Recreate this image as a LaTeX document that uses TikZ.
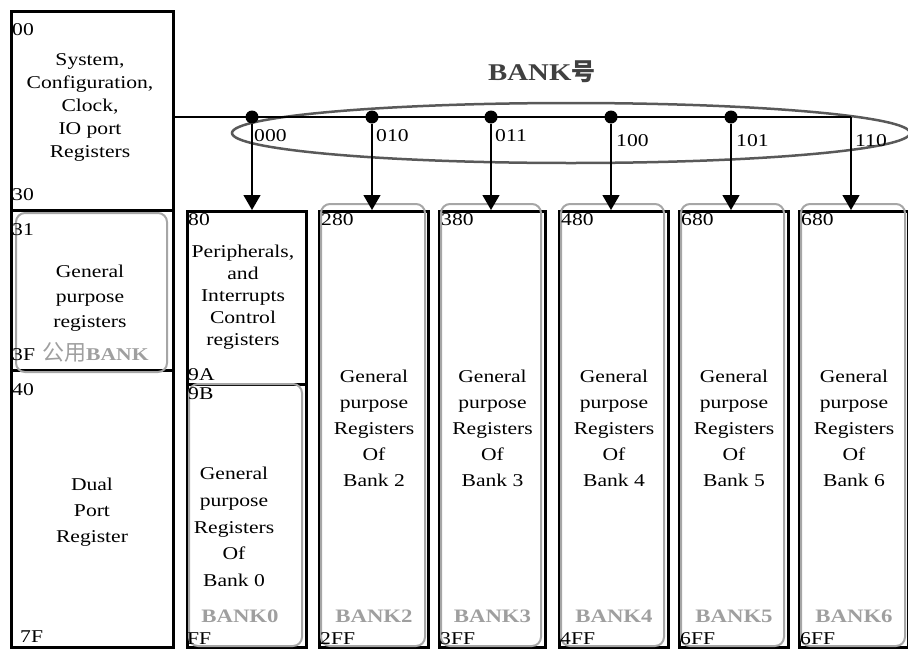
\documentclass[tikz,border=0pt]{standalone}
\usepackage{fontspec}
\setmainfont{Liberation Serif}[FakeStretch=1.2]
\newfontfamily\cjk{Noto Sans CJK SC}
\usepackage{xcolor}
\usetikzlibrary{arrows.meta}
\tikzset{
  regbox/.style={draw, line width=3pt, rectangle, inner sep=0pt, anchor=north west},
  gpbox/.style={draw=gray!70, line width=2pt, rounded corners=9pt},
  addr/.style={inner sep=0pt, anchor=base west},
  bodytext/.style={align=center, inner sep=0pt},
  banklbl/.style={text=gray!75, inner sep=0pt, anchor=base, font=\fontsize{19}{19}\selectfont\bfseries},
  bitlbl/.style={inner sep=0pt, anchor=base west},
  busdot/.style={circle, fill, inner sep=0pt, minimum size=13pt},
  busline/.style={line width=1.3pt},
  selarrow/.style={line width=1.3pt, -{Triangle[width=17pt,length=15pt]}},
  selring/.style={draw=black!65, line width=2.5pt},
}

\begin{document}
\begin{tikzpicture}[x=1pt, y=-1pt, font=\fontsize{18}{23}\selectfont]
\useasboundingbox (0,0) rectangle (908,651);

% left column: common area
\node[regbox, minimum width=162pt, minimum height=199pt] (sysbox) at (10,10) {};
\node[regbox, minimum width=162pt, minimum height=160pt] (sharedbox) at (10,209) {};
\node[regbox, minimum width=162pt, minimum height=277pt] (dualbox) at (10,369) {};
\draw[gpbox] (16,213) rectangle (167,372);

\node[addr] (a00) at (12,35) {00};
\node[bodytext, font=\fontsize{18}{23}\selectfont] (systxt) at (90,107) {System,\\Configuration,\\Clock,\\IO port\\Registers};
\node[addr] (a30) at (12,200) {30};
\node[addr] (a31) at (12,235) {31};
\node[bodytext, font=\fontsize{18}{25}\selectfont] (sharedtxt) at (90,298) {General\\purpose\\registers};
\node[addr] (a3F) at (12,360) {3F};
\node[addr, text=gray!75] (sharedlbl) at (42,360) {{\fontsize{22}{22}\cjk 公用}{\bfseries BANK}};
\node[addr] (a40) at (12,395) {40};
\node[bodytext, font=\fontsize{18}{26}\selectfont] (dualtxt) at (92,512) {Dual\\Port\\Register};
\node[addr] (a7F) at (20,642) {7F};

% bank select bus
\node[addr, text=black!75] (title) at (488,80) {\fontsize{24}{24}\selectfont\bfseries BANK\cjk 号};
\draw[selring] (571,133) ellipse [x radius=339, y radius=30];
\node[busdot] (d0) at (252,117) {};
\node[busdot] (d2) at (372,117) {};
\node[busdot] (d3) at (491,117) {};
\node[busdot] (d4) at (611,117) {};
\node[busdot] (d5) at (731,117) {};
\coordinate (t6) at (851,117);
\draw[busline] (sysbox.east |- t6) -- (t6);
\node[bitlbl] (s0) at (254,141) {000};
\node[bitlbl] (s2) at (376,141) {010};
\node[bitlbl] (s3) at (495,141) {011};
\node[bitlbl] (s4) at (616,146) {100};
\node[bitlbl] (s5) at (736,146) {101};
\node[bitlbl] (s6) at (855,146) {110};

% bank 0
\node[regbox, minimum width=119pt, minimum height=173pt] (periph) at (186,210) {};
\node[regbox, minimum width=119pt, minimum height=263pt] (b0) at (186,383) {};
\draw[gpbox] (189,384) rectangle (302,646);
\node[addr] (a80) at (188,225) {80};
\node[bodytext, font=\fontsize{18}{22}\selectfont] (periphtxt) at (243,297) {Peripherals,\\and\\Interrupts\\Control\\registers};
\node[addr] (a9A) at (188,380) {9A};
\node[addr] (a9B) at (188,399) {9B};
\node[bodytext, font=\fontsize{18}{26.75}\selectfont] (b0txt) at (234,527) {General\\purpose\\Registers\\Of\\Bank 0};
\node[banklbl] (b0lbl) at (240,622) {BANK0};
\node[addr] (aFF) at (187,644) {FF};

% banks 2 to 6
\node[regbox, minimum width=109pt, minimum height=436pt] (b2) at (318,210) {};
\node[regbox, minimum width=106pt, minimum height=436pt] (b3) at (438,210) {};
\node[regbox, minimum width=109pt, minimum height=436pt] (b4) at (558,210) {};
\node[regbox, minimum width=109pt, minimum height=436pt] (b5) at (678,210) {};
\node[regbox, minimum width=109pt, minimum height=436pt] (b6) at (798,210) {};
\draw[gpbox] (321,204) rectangle (425,646);
\draw[gpbox] (441,204) rectangle (541,646);
\draw[gpbox] (561,204) rectangle (664,646);
\draw[gpbox] (681,204) rectangle (784,646);
\draw[gpbox] (801,204) rectangle (905,646);

\node[addr] (a280) at (321,225) {280};
\node[addr] (a380) at (441,225) {380};
\node[addr] (a480) at (561,225) {480};
\node[addr] (a580) at (681,225) {680};
\node[addr] (a680) at (801,225) {680};

\node[bodytext, font=\fontsize{18}{26}\selectfont] (b2txt) at (b2.center |- 0,428) {General\\purpose\\Registers\\Of\\Bank 2};
\node[bodytext, font=\fontsize{18}{26}\selectfont] (b3txt) at (b3.center |- 0,428) {General\\purpose\\Registers\\Of\\Bank 3};
\node[bodytext, font=\fontsize{18}{26}\selectfont] (b4txt) at (b4.center |- 0,428) {General\\purpose\\Registers\\Of\\Bank 4};
\node[bodytext, font=\fontsize{18}{26}\selectfont] (b5txt) at (b5.center |- 0,428) {General\\purpose\\Registers\\Of\\Bank 5};
\node[bodytext, font=\fontsize{18}{26}\selectfont] (b6txt) at (b6.center |- 0,428) {General\\purpose\\Registers\\Of\\Bank 6};

\node[banklbl] (b2lbl) at (b2.center |- 0,622) {BANK2};
\node[banklbl] (b3lbl) at (b3.center |- 0,622) {BANK3};
\node[banklbl] (b4lbl) at (b4.center |- 0,622) {BANK4};
\node[banklbl] (b5lbl) at (b5.center |- 0,622) {BANK5};
\node[banklbl] (b6lbl) at (b6.center |- 0,622) {BANK6};

\node[addr] (a2FF) at (320,644) {2FF};
\node[addr] (a3FF) at (440,644) {3FF};
\node[addr] (a4FF) at (560,644) {4FF};
\node[addr] (a5FF) at (680,644) {6FF};
\node[addr] (a6FF) at (800,644) {6FF};

% select arrows
\draw[selarrow] (d0) -- (d0 |- periph.north);
\draw[selarrow] (d2) -- (d2 |- b2.north);
\draw[selarrow] (d3) -- (d3 |- b3.north);
\draw[selarrow] (d4) -- (d4 |- b4.north);
\draw[selarrow] (d5) -- (d5 |- b5.north);
\draw[selarrow] (t6) -- (t6 |- b6.north);
\end{tikzpicture}
\end{document}
